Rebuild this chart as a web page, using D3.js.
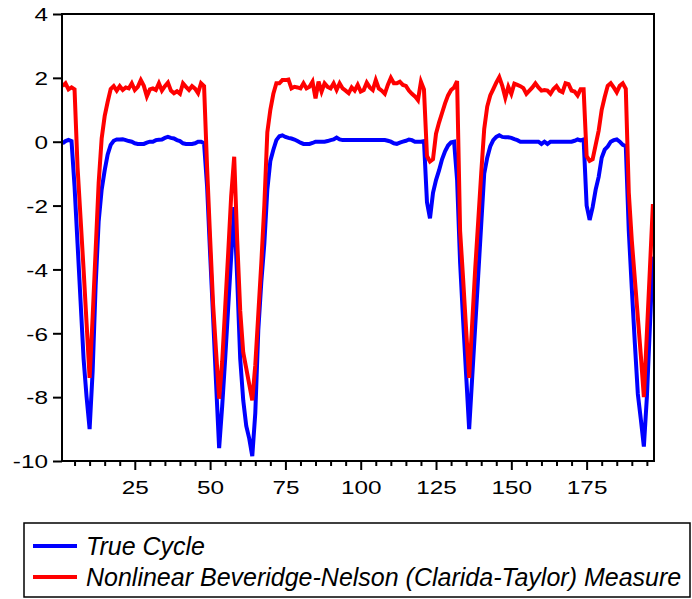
<!DOCTYPE html>
<html>
<head>
<meta charset="utf-8">
<script src="https://cdn.jsdelivr.net/npm/d3@7"></script>
<style>
  html, body { margin: 0; padding: 0; background: #fff; }
  svg { display: block; }
  text { font-family: "Liberation Sans", Arial, sans-serif; fill: #000; }
</style>
</head>
<body>
<svg id="chart" width="692" height="599"></svg>
<script>
// Observation-by-observation values (obs 1..197)
const trueCycle = [
  -0.05, 0.02, 0.06, 0.02, -1.4, -3.2, -5.0, -6.8, -8.0, -9.0,
  -7.2, -4.5, -2.5, -1.5, -0.9, -0.4, -0.1, 0.03, 0.07, 0.07,
  0.08, 0.05, 0.02, 0.0, -0.05, -0.07, -0.07, -0.07, -0.03, 0.0,
  0.0, 0.05, 0.06, 0.07, 0.12, 0.15, 0.12, 0.1, 0.05, 0.02,
  -0.05, -0.07, -0.07, -0.07, -0.05, 0.0, 0.0, -0.05, -1.4, -3.5,
  -5.5, -7.6, -9.6, -8.3, -6.8, -5.2, -3.6, -2.05, -4.3, -6.8,
  -8.1, -8.9, -9.3, -9.85, -8.5, -5.9, -4.4, -3.2, -1.5, -0.6,
  -0.25, 0.05, 0.17, 0.2, 0.15, 0.12, 0.1, 0.07, 0.02, -0.03,
  -0.07, -0.07, -0.07, -0.04, 0.0, 0.0, 0.0, 0.0, 0.02, 0.05,
  0.07, 0.13, 0.07, 0.05, 0.05, 0.05, 0.05, 0.05, 0.05, 0.05,
  0.05, 0.05, 0.05, 0.05, 0.05, 0.05, 0.05, 0.05, 0.03, 0.0,
  -0.05, -0.07, -0.03, 0.0, 0.03, 0.07, 0.05, 0.0, 0.0, 0.0,
  0.02, -1.9, -2.4, -1.6, -1.2, -0.9, -0.55, -0.3, -0.12, -0.02,
  0.0, -1.2, -3.8, -5.6, -7.3, -9.0, -7.4, -5.8, -4.2, -2.6,
  -1.0, -0.5, -0.15, 0.05, 0.15, 0.2, 0.15, 0.14, 0.14, 0.12,
  0.08, 0.05, 0.0, 0.0, 0.0, 0.0, 0.0, 0.0, 0.0, -0.07,
  0.0, -0.07, 0.0, 0.0, 0.0, 0.0, 0.0, 0.0, 0.0, 0.0,
  0.03, 0.07, 0.04, 0.07, -2.0, -2.45, -2.05, -1.5, -1.1, -0.5,
  -0.25, -0.15, 0.0, 0.05, 0.07, 0.0, -0.1, -0.14, -2.8, -4.6,
  -6.3, -7.9, -8.7, -9.55, -8.0, -5.8, -3.6
];

const bnMeasure = [
  1.74, 1.83, 1.64, 1.70, 1.64, -0.8, -2.4, -4.0, -5.7, -7.4,
  -5.5, -3.4, -1.3, 0.1, 0.8, 1.25, 1.65, 1.74, 1.6, 1.74,
  1.62, 1.7, 1.67, 1.83, 1.62, 1.72, 1.93, 1.75, 1.42, 1.64,
  1.67, 1.62, 1.83, 1.6, 1.74, 1.85, 1.6, 1.52, 1.58, 1.5,
  1.83, 1.72, 1.62, 1.74, 1.66, 1.52, 1.83, 1.74, -0.8, -3.0,
  -5.1, -6.6, -8.05, -6.9, -5.2, -3.5, -1.7, -0.47, -3.1, -5.3,
  -6.6, -7.1, -7.6, -8.1, -7.0, -5.4, -3.8, -2.0, 0.3, 1.0,
  1.5, 1.83, 1.83, 1.93, 1.93, 1.95, 1.67, 1.72, 1.7, 1.67,
  1.83, 1.67, 1.72, 1.88, 1.36, 1.88, 1.57, 1.83, 1.72, 1.67,
  1.83, 1.62, 1.83, 1.67, 1.6, 1.52, 1.7, 1.6, 1.78, 1.57,
  1.62, 1.85, 1.7, 1.62, 1.93, 1.67, 1.6, 1.5, 1.78, 2.0,
  1.83, 1.83, 1.88, 1.78, 1.75, 1.6, 1.5, 1.42, 1.3, 1.88,
  1.64, -0.45, -0.62, -0.55, 0.25, 0.6, 0.9, 1.2, 1.45, 1.62,
  1.7, 1.9, -2.8, -4.3, -5.9, -7.4, -5.7, -4.0, -2.5, -1.0,
  0.4, 1.1, 1.45, 1.65, 1.85, 2.02, 1.75, 1.38, 1.72, 1.5,
  1.82, 1.78, 1.74, 1.68, 1.5, 1.6, 1.7, 1.83, 1.7, 1.6,
  1.62, 1.6, 1.5, 1.65, 1.74, 1.6, 1.55, 1.83, 1.8, 1.6,
  1.57, 1.45, 1.64, 1.64, -0.45, -0.6, -0.55, -0.1, 0.35, 1.0,
  1.4, 1.75, 1.83, 1.7, 1.55, 1.75, 1.83, 1.66, -1.6, -3.1,
  -4.3, -5.5, -6.7, -8.0, -6.0, -4.0, -1.95
];

const yTicks = [4, 2, 0, -2, -4, -6, -8, -10];
const xMajorTicks = [25, 50, 75, 100, 125, 150, 175];
const seriesNames = ["True Cycle", "Nonlinear Beveridge-Nelson (Clarida-Taylor) Measure"];
const seriesColors = ["#0000ff", "#ff0000"];

const obs = d3.range(1, trueCycle.length + 1);
const xMinorTicks = d3.range(5, trueCycle.length + 1, 5).filter(v => v % 25 !== 0);

const svg = d3.select("#chart");
const plot = { left: 62, top: 14, right: 654, bottom: 461 };
const fmt = v => String(v); // plain hyphen for negatives
const tickFontSize = 19;
const tickWiden = 1.28; // tick labels are set in a wide face

const x = d3.scaleLinear().domain([1, trueCycle.length]).range([62.5, 652.9]);
const y = d3.scaleLinear().domain([-10, 4]).range([plot.bottom, plot.top]);

// y axis ticks and labels
svg.append("g")
  .attr("transform", `translate(${plot.left},0)`)
  .call(d3.axisLeft(y).tickValues(yTicks).tickSize(9).tickPadding(5).tickFormat(fmt))
  .call(g => g.select(".domain").remove())
  .call(g => g.selectAll(".tick line").attr("stroke", "#000").attr("stroke-width", 2))
  .call(g => g.selectAll(".tick text")
    .attr("font-size", tickFontSize)
    .attr("x", 0)
    .attr("dy", "0.36em")
    .attr("transform", `translate(-14,0) scale(${tickWiden},1)`));

// x axis: minor ticks every 5 obs, labelled majors every 25
svg.append("g")
  .attr("transform", `translate(0,${plot.bottom})`)
  .call(d3.axisBottom(x).tickValues(xMinorTicks).tickSize(5).tickFormat(""))
  .call(g => g.select(".domain").remove())
  .call(g => g.selectAll(".tick line").attr("stroke", "#000").attr("stroke-width", 2));

svg.append("g")
  .attr("transform", `translate(0,${plot.bottom})`)
  .call(d3.axisBottom(x).tickValues(xMajorTicks).tickSize(9).tickPadding(11).tickFormat(fmt))
  .call(g => g.select(".domain").remove())
  .call(g => g.selectAll(".tick line").attr("stroke", "#000").attr("stroke-width", 2))
  .call(g => g.selectAll(".tick text")
    .attr("font-size", tickFontSize)
    .attr("transform", `scale(${tickWiden},1)`));

// series lines
const line = d3.line().x((d, i) => x(obs[i])).y(d => y(d));
[trueCycle, bnMeasure].forEach((s, k) => {
  svg.append("path")
    .datum(s)
    .attr("fill", "none")
    .attr("stroke", seriesColors[k])
    .attr("stroke-width", 4)
    .attr("stroke-linejoin", "miter")
    .attr("stroke-miterlimit", 4)
    .attr("d", line);
});

// plot frame
svg.append("rect")
  .attr("x", plot.left).attr("y", plot.top)
  .attr("width", plot.right - plot.left).attr("height", plot.bottom - plot.top)
  .attr("fill", "none").attr("stroke", "#000").attr("stroke-width", 2);

// legend
const legend = svg.append("g");
legend.append("rect")
  .attr("x", 24).attr("y", 523).attr("width", 666).attr("height", 74)
  .attr("fill", "#fff").attr("stroke", "#000").attr("stroke-width", 1.5);
const rows = [{ ly: 546, ty: 555 }, { ly: 577, ty: 586 }];
seriesNames.forEach((name, k) => {
  legend.append("line")
    .attr("x1", 33).attr("x2", 77)
    .attr("y1", rows[k].ly).attr("y2", rows[k].ly)
    .attr("stroke", seriesColors[k]).attr("stroke-width", 4);
  legend.append("text")
    .attr("x", 86).attr("y", rows[k].ty)
    .attr("font-size", 25).attr("font-style", "italic")
    .text(name);
});
</script>
</body>
</html>
